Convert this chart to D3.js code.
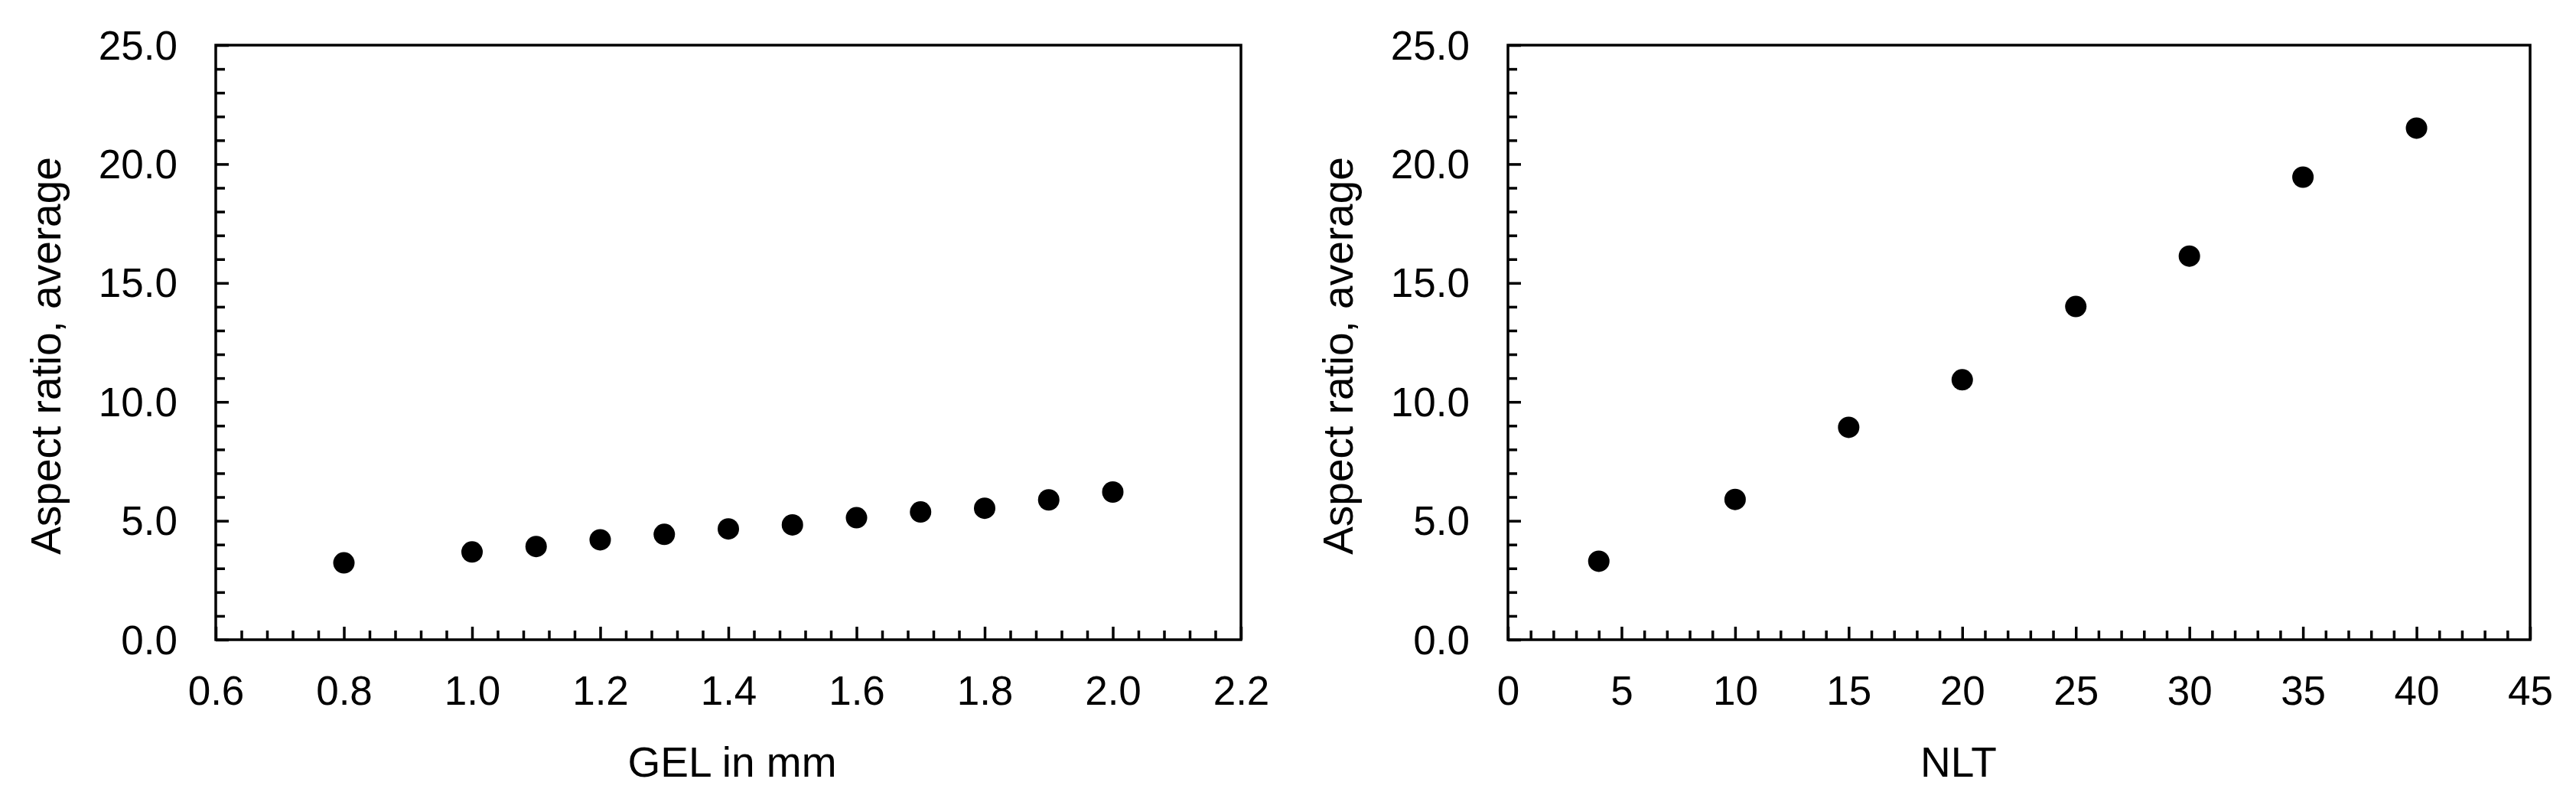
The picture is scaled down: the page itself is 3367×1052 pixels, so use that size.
<!DOCTYPE html>
<html>
<head>
<meta charset="utf-8">
<script src="https://cdn.jsdelivr.net/npm/d3@7"></script>
<style>
  body { margin: 0; background: #fff; }
  svg text { font-family: "Liberation Sans", Arial, sans-serif; fill: #000; }
</style>
</head>
<body>
<svg id="chart" width="3367" height="1052"></svg>
<script>
// left panel: GEL in mm
const gelX = [0.8, 1.0, 1.1, 1.2, 1.3, 1.4, 1.5, 1.6, 1.7, 1.8, 1.9, 2.0];
const gelY = [3.23, 3.69, 3.92, 4.20, 4.43, 4.66, 4.83, 5.13, 5.37, 5.53, 5.88, 6.21];
const gelTicks = [0.6, 0.8, 1.0, 1.2, 1.4, 1.6, 1.8, 2.0, 2.2];

// right panel: NLT
const nltX = [4, 10, 15, 20, 25, 30, 35, 40];
const nltY = [3.30, 5.90, 8.93, 10.93, 14.01, 16.13, 19.45, 21.51];
const nltTicks = [0, 5, 10, 15, 20, 25, 30, 35, 40, 45];

const yTicks = [0, 5, 10, 15, 20, 25];
const yTitle = "Aspect ratio, average";

const svg = d3.select("#chart");
svg.append("rect").attr("width", 3367).attr("height", 1052).attr("fill", "#fff");

const plotTop = 59, plotBottom = 836;

// minor ticks: 5 steps between majors
function minors(ticks) {
  let out = [];
  for (let i = 0; i < ticks.length - 1; i++) {
    let a = ticks[i], b = ticks[i + 1];
    for (let k = 1; k < 5; k++) out.push(a + (b - a) * k / 5);
  }
  return out;
}

function panel(left, right, xs, ys, xTicks, xFmt, xTitle, xTitleX) {
  const x = d3.scaleLinear().domain([xTicks[0], xTicks[xTicks.length - 1]]).range([left, right]);
  const y = d3.scaleLinear().domain([0, 25]).range([plotBottom, plotTop]);
  const g = svg.append("g");

  // minor ticks
  g.append("g").attr("transform", `translate(0,${plotBottom})`)
    .call(d3.axisBottom(x).tickValues(minors(xTicks)).tickSize(-12).tickFormat(""))
    .call(s => s.select(".domain").remove());
  g.append("g").attr("transform", `translate(${left},0)`)
    .call(d3.axisLeft(y).tickValues(minors(yTicks)).tickSize(-12).tickFormat(""))
    .call(s => s.select(".domain").remove());

  // major ticks + labels
  const xa = g.append("g").attr("transform", `translate(0,${plotBottom})`)
    .call(d3.axisBottom(x).tickValues(xTicks).tickSize(-17).tickPadding(47).tickFormat(d3.format(xFmt)));
  const ya = g.append("g").attr("transform", `translate(${left},0)`)
    .call(d3.axisLeft(y).tickValues(yTicks).tickSize(-17).tickPadding(50).tickFormat(d3.format(".1f")));
  [xa, ya].forEach(a => {
    a.select(".domain").remove();
    a.selectAll("text").attr("font-size", 53).attr("font-family", "Liberation Sans, Arial, sans-serif");
  });
  g.selectAll("line").attr("stroke", "#000").attr("stroke-width", 3.5);
  ya.selectAll("text").attr("dy", "0.34em");

  // plot frame
  g.append("rect")
    .attr("x", left).attr("y", plotTop)
    .attr("width", right - left).attr("height", plotBottom - plotTop)
    .attr("fill", "none").attr("stroke", "#000").attr("stroke-width", 3.5);

  // points
  g.selectAll("circle.pt").data(xs.map((v, i) => [v, ys[i]])).enter()
    .append("circle").attr("class", "pt")
    .attr("cx", d => x(d[0])).attr("cy", d => y(d[1]))
    .attr("r", 14).attr("fill", "#000");

  // axis titles
  g.append("text").attr("x", xTitleX).attr("y", 1015)
    .attr("text-anchor", "middle").attr("font-size", 55).text(xTitle);
  g.append("text").attr("transform", `translate(${left - 203},465) rotate(-90)`)
    .attr("text-anchor", "middle").attr("font-size", 55).text(yTitle);
}

panel(282, 1622, gelX, gelY, gelTicks, ".1f", "GEL in mm", 957);
panel(1971, 3307, nltX, nltY, nltTicks, "d", "NLT", 2560);
</script>
</body>
</html>
